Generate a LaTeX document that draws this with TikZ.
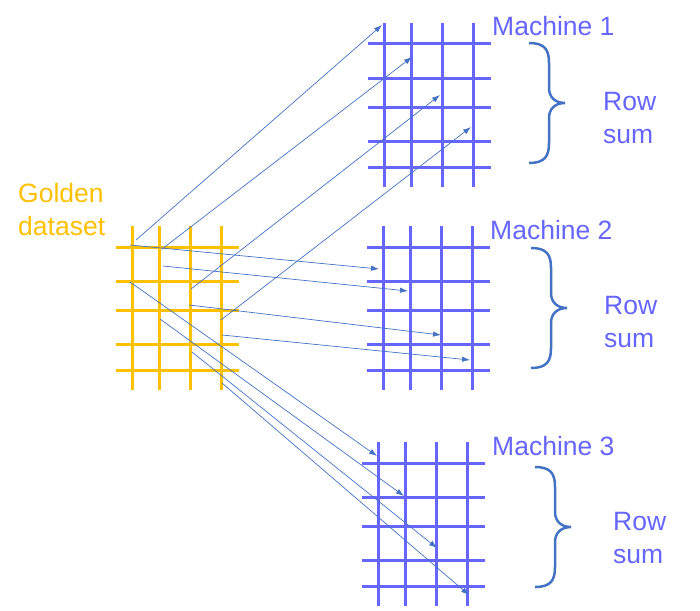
\documentclass[tikz,border=0pt]{standalone}
\usepackage{fontspec}
\setmainfont{Liberation Sans}
\usetikzlibrary{arrows.meta}
\definecolor{gold}{HTML}{FFC000}
\definecolor{mblue}{HTML}{6666FF}
\definecolor{office}{HTML}{4472C4}
\tikzset{
  pics/grid/.style={code={
    \foreach \dx in {0,27,58,89}{\draw (\dx,-21)--(\dx,143);}
    \foreach \dy in {0,34,63,97,123}{\draw (-16,\dy)--(107,\dy);}
  }},
  pics/rowbrace/.style={code={
    \draw (0,0) .. controls (16,0) and (20,7) .. (20,20) -- (20,45) .. controls (20,54) and (26,60) .. (36,60)
      .. controls (26,60) and (20,66) .. (20,75) -- (20,100) .. controls (20,113) and (16,120) .. (0,120);
  }}
}

\begin{document}
\begin{tikzpicture}[x=1pt,y=-1pt,
  link/.style={-{Latex[length=8pt,width=5.5pt]},office,line width=.7pt},
  lab/.style={font=\fontsize{26.5}{33}\selectfont,inner sep=0pt,anchor=base west,align=left}]
\useasboundingbox (0,0) rectangle (700,610);
% datasets
\pic[gold,line width=3pt] at (132,247) {grid};
\pic[mblue,line width=3pt] at (384,44) {grid};
\pic[mblue,line width=3pt] at (383,247) {grid};
\pic[mblue,line width=3pt] at (378,463) {grid};
\pic[office,line width=2.5pt] at (529,43) {rowbrace};
\pic[office,line width=2.5pt] at (531,248) {rowbrace};
\pic[office,line width=2.5pt] at (535,467) {rowbrace};
% labels (anchored on the last line)
\node[lab,gold] (golden) at (18,235) {Golden\\dataset};
\node[lab,mblue] (mach1) at (492,35) {Machine 1};
\node[lab,mblue] (mach2) at (490,239) {Machine 2};
\node[lab,mblue] (mach3) at (492,455) {Machine 3};
\node[lab,mblue] (sum1) at (603,143) {Row\\sum};
\node[lab,mblue] (sum2) at (604,347) {Row\\sum};
\node[lab,mblue] (sum3) at (613,563) {Row\\sum};
% shuffling
\foreach \i/\s/\e in {1/{136,240}/{382,25},2/{162,249}/{412,57},3/{191,289}/{440,95},4/{221,320}/{471,127},
  5/{130,245}/{379,269},6/{163,266}/{408,291},7/{189,305}/{441,335},8/{222,335}/{470,360},
  9/{130,282}/{377,456},10/{160,319}/{404,496},11/{192,352}/{437,548},12/{222,383}/{469,595}}{
  \coordinate (s\i) at (\s);
  \coordinate (e\i) at (\e);
  \draw[link] (s\i)--(e\i);
}
\end{tikzpicture}
\end{document}
